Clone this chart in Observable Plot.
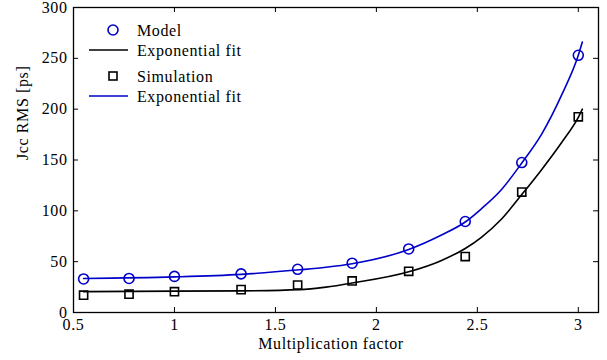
<!DOCTYPE html>
<html>
<head>
<meta charset="utf-8">
<script src="https://cdn.jsdelivr.net/npm/d3@7"></script>
<script src="https://cdn.jsdelivr.net/npm/@observablehq/plot@0.6"></script>
<style>
  html, body { margin: 0; padding: 0; background: #fff; }
  #chart svg { display: block; }
  #chart svg text { letter-spacing: 0.6px; }
</style>
</head>
<body>
<div id="chart"></div>
<script>
// Measured points
const multFactor = [0.55, 0.775, 1.0, 1.33, 1.61, 1.88, 2.16, 2.44, 2.72, 3.0];
const modelRms   = [33, 33.5, 35.5, 38, 42.5, 48.5, 62.5, 89.5, 147.5, 253];
const simRms     = [17, 18, 20.5, 22.5, 27, 31, 40.5, 55, 118.5, 192.5];

// Exponential fit curves, sampled along x
const fitX     = [0.55, 1.0, 1.33, 1.62, 1.75, 1.88, 2.16, 2.32, 2.44, 2.52, 2.62, 2.72, 2.82, 2.92, 3.0, 3.02];
const modelFit = [33.5, 35, 37.5, 42, 44.5, 48, 62, 76, 89, 102, 121, 147, 176, 215, 253, 266];
const simFit   = [20.5, 21, 21.3, 22.5, 25, 29, 40, 51, 63, 74, 92, 116, 141, 168, 192, 200];

// Axis ticks
const xTicks = [0.5, 1, 1.5, 2, 2.5, 3];
const yTicks = [0, 50, 100, 150, 200, 250, 300];

const legendLabels = ["Model", "Exponential fit", "Simulation", "Exponential fit"];

const BLUE = "#0000c8";
const FONT = "'Liberation Serif', 'Times New Roman', serif";
const FS = 16;

const modelPts = multFactor.map((x, i) => ({x, y: modelRms[i]}));
const simPts = multFactor.map((x, i) => ({x, y: simRms[i]}));
const modelCurve = fitX.map((x, i) => ({x, y: modelFit[i]}));
const simCurve = fitX.map((x, i) => ({x, y: simFit[i]}));

const W = 607, H = 360;
const mTop = 7, mBottom = 48, mLeft = 73, mRight = 9;
const frameH = H - mTop - mBottom;
const frameW = W - mLeft - mRight;
const tickLen = 5;

const plot = Plot.plot({
  width: W,
  height: H,
  marginTop: mTop,
  marginBottom: mBottom,
  marginLeft: mLeft,
  marginRight: mRight,
  style: {fontFamily: FONT, fontSize: FS + "px", color: "#000", background: "#fff"},
  x: {domain: [0.5, 3.1]},
  y: {domain: [0, 300]},
  marks: [
    // fit curves
    Plot.line(simCurve, {x: "x", y: "y", stroke: "#000", strokeWidth: 1.6, curve: "monotone-x"}),
    Plot.line(modelCurve, {x: "x", y: "y", stroke: BLUE, strokeWidth: 1.6, curve: "monotone-x"}),
    // data markers
    Plot.dot(modelPts, {x: "x", y: "y", r: 5, stroke: BLUE, strokeWidth: 1.6, fill: "none"}),
    Plot.dot(simPts, {x: "x", y: "y", r: 4.6, symbol: "square", stroke: "#000", strokeWidth: 1.6, fill: "none"}),
    // inward ticks on all four sides
    Plot.tickX(xTicks, {x: d => d, stroke: "#000", strokeWidth: 1, insetTop: frameH - tickLen}),
    Plot.tickX(xTicks, {x: d => d, stroke: "#000", strokeWidth: 1, insetBottom: frameH - tickLen}),
    Plot.tickY(yTicks, {y: d => d, stroke: "#000", strokeWidth: 1, insetRight: frameW - tickLen}),
    Plot.tickY(yTicks, {y: d => d, stroke: "#000", strokeWidth: 1, insetLeft: frameW - tickLen}),
    // tick labels
    Plot.axisX(xTicks, {tickSize: 0, tickPadding: 6, tickFormat: d => String(d), label: null, fontSize: FS}),
    Plot.axisY(yTicks, {tickSize: 0, tickPadding: 6, tickFormat: d => String(d), label: null, fontSize: FS}),
    // axis titles
    Plot.text(["Multiplication factor"], {frameAnchor: "bottom", dy: 31, dx: -5, lineAnchor: "middle", fontSize: FS}),
    Plot.text(["Jcc RMS [ps]"], {frameAnchor: "left", dx: -51, rotate: -90, lineAnchor: "middle", fontSize: FS}),
    Plot.frame({stroke: "#000", strokeWidth: 1.3})
  ]
});

document.getElementById("chart").appendChild(plot);

// Legend in the upper-left corner of the plot area
const svg = d3.select(plot);
const lg = svg.append("g")
  .attr("transform", `translate(${mLeft},${mTop})`)
  .attr("font-family", FONT)
  .attr("font-size", FS)
  .attr("text-anchor", "start")
  .attr("fill", "#000");

const rowY = [23, 43, 69, 89];
const symX = 40, lineX0 = 16, lineX1 = 55, textX = 64;

legendLabels.forEach((label, i) => {
  lg.append("text")
    .attr("x", textX)
    .attr("y", rowY[i])
    .attr("dy", "0.35em")
    .text(label);
});
lg.append("circle")
  .attr("cx", symX).attr("cy", rowY[0]).attr("r", 5)
  .attr("fill", "none").attr("stroke", BLUE).attr("stroke-width", 1.6);
lg.append("line")
  .attr("x1", lineX0).attr("x2", lineX1).attr("y1", rowY[1]).attr("y2", rowY[1])
  .attr("stroke", "#000").attr("stroke-width", 1.6);
lg.append("rect")
  .attr("x", symX - 4).attr("y", rowY[2] - 4).attr("width", 8).attr("height", 8)
  .attr("fill", "none").attr("stroke", "#000").attr("stroke-width", 1.6);
lg.append("line")
  .attr("x1", lineX0).attr("x2", lineX1).attr("y1", rowY[3]).attr("y2", rowY[3])
  .attr("stroke", BLUE).attr("stroke-width", 1.6);
</script>
</body>
</html>
